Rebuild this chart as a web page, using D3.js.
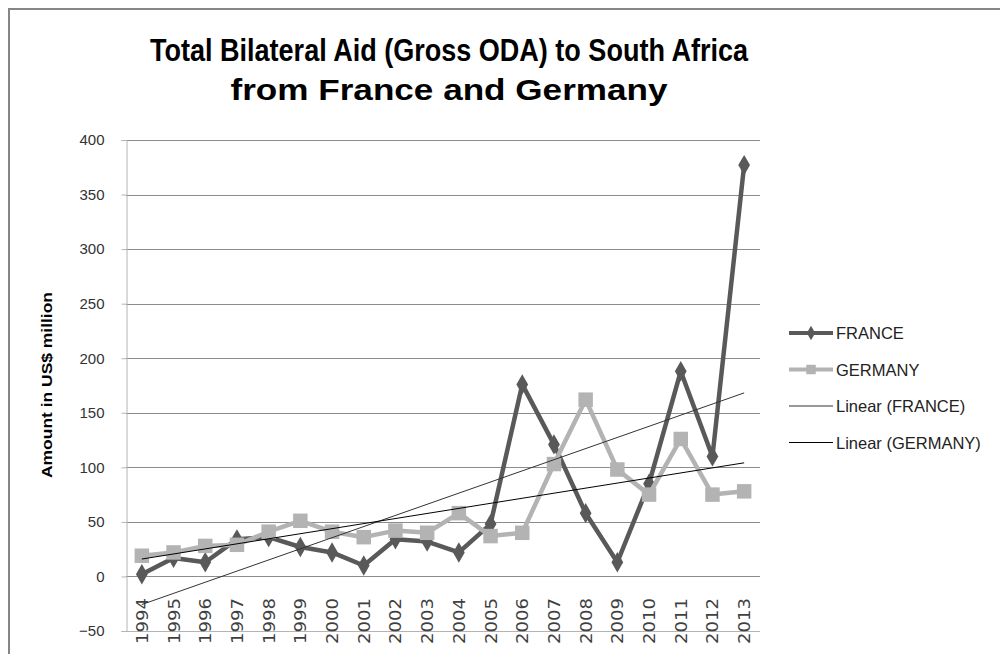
<!DOCTYPE html>
<html>
<head>
<meta charset="utf-8">
<script src="https://cdn.jsdelivr.net/npm/d3@7"></script>
<style>
  body { margin: 0; background: #fff; }
  svg { display: block; }
</style>
</head>
<body>
<div id="chart"><svg width="1000" height="654"></svg></div>
<script>
const YEARS = ['1994', '1995', '1996', '1997', '1998', '1999', '2000', '2001', '2002', '2003',
  '2004', '2005', '2006', '2007', '2008', '2009', '2010', '2011', '2012', '2013'];
const FRANCE = [2, 17, 13, 34, 36, 27, 22, 10, 34, 32, 22, 48, 176, 121, 58, 13, 85, 188, 110, 377];
const GERMANY = [19, 22, 28, 29, 41, 51, 41, 36, 42, 40, 58, 37, 40, 103, 162, 98, 75, 126, 75, 78];
const Y_TICKS = [-50, 0, 50, 100, 150, 200, 250, 300, 350, 400];
const LEGEND = ['FRANCE', 'GERMANY', 'Linear (FRANCE)', 'Linear (GERMANY)'];
const TITLE = ['Total Bilateral Aid (Gross ODA) to South Africa', 'from France and Germany'];
const Y_LABEL = 'Amount in US$ million';

const SVG = d3.select('#chart svg');

// outer chart frame
SVG.append('path')
  .attr('d', 'M9,660 L9,9 L1010,9')
  .style('fill', 'none')
  .style('stroke', '#868686')
  .style('stroke-width', 2);

const X = d3.scalePoint().domain(YEARS).range([126, 760]).padding(0.5);
const Y = d3.scaleLinear().domain([-50, 400]).range([631, 140]);

// gridlines
SVG.append('g')
  .selectAll('line')
  .data(Y_TICKS)
  .join('line')
  .attr('x1', 126)
  .attr('x2', 760)
  .attr('y1', (d) => Math.round(Y(d)) + 0.5)
  .attr('y2', (d) => Math.round(Y(d)) + 0.5)
  .style('stroke', (d) => (d === -50 ? '#b4b4b4' : '#8c8c8c'))
  .style('stroke-width', 1);

// y axis
const Y_AXIS = SVG.append('g')
  .attr('transform', 'translate(126.5,0)')
  .call(d3.axisLeft(Y).tickValues(Y_TICKS).tickSize(5).tickPadding(17));
Y_AXIS.select('.domain').style('stroke', '#b4b4b4');
Y_AXIS.selectAll('.tick line').style('stroke', '#b4b4b4');
Y_AXIS.selectAll('text')
  .style('font-family', 'Liberation Sans, Arial, sans-serif')
  .style('font-size', '15px')
  .style('fill', '#333');

// x labels, rotated, sitting under the zero line
SVG.append('g')
  .selectAll('text')
  .data(YEARS)
  .join('text')
  .text((d) => d)
  .attr('transform', (d) => `translate(${X(d) + 6},598) rotate(-90)`)
  .attr('textLength', 46)
  .attr('lengthAdjust', 'spacingAndGlyphs')
  .style('text-anchor', 'end')
  .style('font-family', 'DejaVu Sans, sans-serif')
  .style('font-size', '16px')
  .style('fill', '#404040');

// linear trend (least squares, like the spreadsheet trendline)
function trend(values) {
  const xs = values.map((v, i) => i + 1);
  const mx = d3.mean(xs);
  const my = d3.mean(values);
  const slope = d3.sum(xs, (x, i) => (x - mx) * (values[i] - my)) / d3.sum(xs, (x) => (x - mx) ** 2);
  return xs.map((x) => my + slope * (x - mx));
}

const SERIES = [
  { name: 'FRANCE', values: FRANCE, color: '#595959', marker: d3.symbolDiamond, size: 120, trendColor: '#333' },
  { name: 'GERMANY', values: GERMANY, color: '#b3b3b3', marker: d3.symbolSquare, size: 210, trendColor: '#000' },
];

const LINE = d3.line()
  .x((d) => X(d.year))
  .y((d) => Y(d.value));

SERIES.forEach((s) => {
  const pts = YEARS.map((year, i) => ({ year, value: s.values[i] }));
  const G = SVG.append('g');
  G.append('path')
    .attr('d', LINE(pts))
    .style('fill', 'none')
    .style('stroke', s.color)
    .style('stroke-width', 4.5)
    .style('stroke-linejoin', 'round');
  G.selectAll('path.m')
    .data(pts)
    .join('path')
    .attr('class', 'm')
    .attr('d', d3.symbol().type(s.marker).size(s.size))
    .attr('transform', (d) => `translate(${X(d.year)},${Y(d.value)})`)
    .style('fill', s.color);
});

SERIES.forEach((s) => {
  const t = trend(s.values);
  SVG.append('line')
    .attr('x1', X(YEARS[0]))
    .attr('y1', Y(t[0]))
    .attr('x2', X(YEARS[YEARS.length - 1]))
    .attr('y2', Y(t[t.length - 1]))
    .style('stroke', s.trendColor)
    .style('stroke-width', 1);
});

// legend
const LEG = SVG.append('g').attr('transform', 'translate(789,333)');
LEGEND.forEach((label, i) => {
  const row = LEG.append('g').attr('transform', `translate(0,${i * 36.5})`);
  const s = SERIES[i % 2];
  const isTrend = i >= 2;
  row.append('line')
    .attr('x1', 0)
    .attr('x2', 44)
    .style('stroke', isTrend ? s.trendColor : s.color)
    .style('stroke-width', isTrend ? 1.2 : 4);
  if (!isTrend) {
    row.append('path')
      .attr('d', d3.symbol().type(s.marker).size(i === 0 ? 60 : 90))
      .attr('transform', 'translate(22,0)')
      .style('fill', s.color);
  }
  row.append('text')
    .text(label)
    .attr('x', 47)
    .attr('y', 6)
    .style('font-family', 'Liberation Sans, Arial, sans-serif')
    .style('font-size', '16.5px')
    .style('fill', '#222');
});

// title
SVG.append('g')
  .selectAll('text')
  .data(TITLE)
  .join('text')
  .text((d) => d)
  .attr('x', 449)
  .attr('y', (d, i) => 61 + i * 39)
  .attr('textLength', (d, i) => (i === 0 ? 598 : 437))
  .attr('lengthAdjust', 'spacingAndGlyphs')
  .style('text-anchor', 'middle')
  .style('font-family', (d, i) => (i === 0
    ? 'Liberation Sans Narrow, Liberation Sans, Arial, sans-serif'
    : 'Liberation Sans, Arial, sans-serif'))
  .style('font-weight', 'bold')
  .style('font-size', (d, i) => (i === 0 ? '31px' : '30px'))
  .style('fill', '#000');

// y axis title
SVG.append('text')
  .text(Y_LABEL)
  .attr('transform', 'translate(52,385) rotate(-90)')
  .attr('textLength', 186)
  .attr('lengthAdjust', 'spacingAndGlyphs')
  .style('text-anchor', 'middle')
  .style('font-family', 'Liberation Sans, Arial, sans-serif')
  .style('font-weight', 'bold')
  .style('font-size', '15px')
  .style('fill', '#000');
</script>
</body>
</html>
